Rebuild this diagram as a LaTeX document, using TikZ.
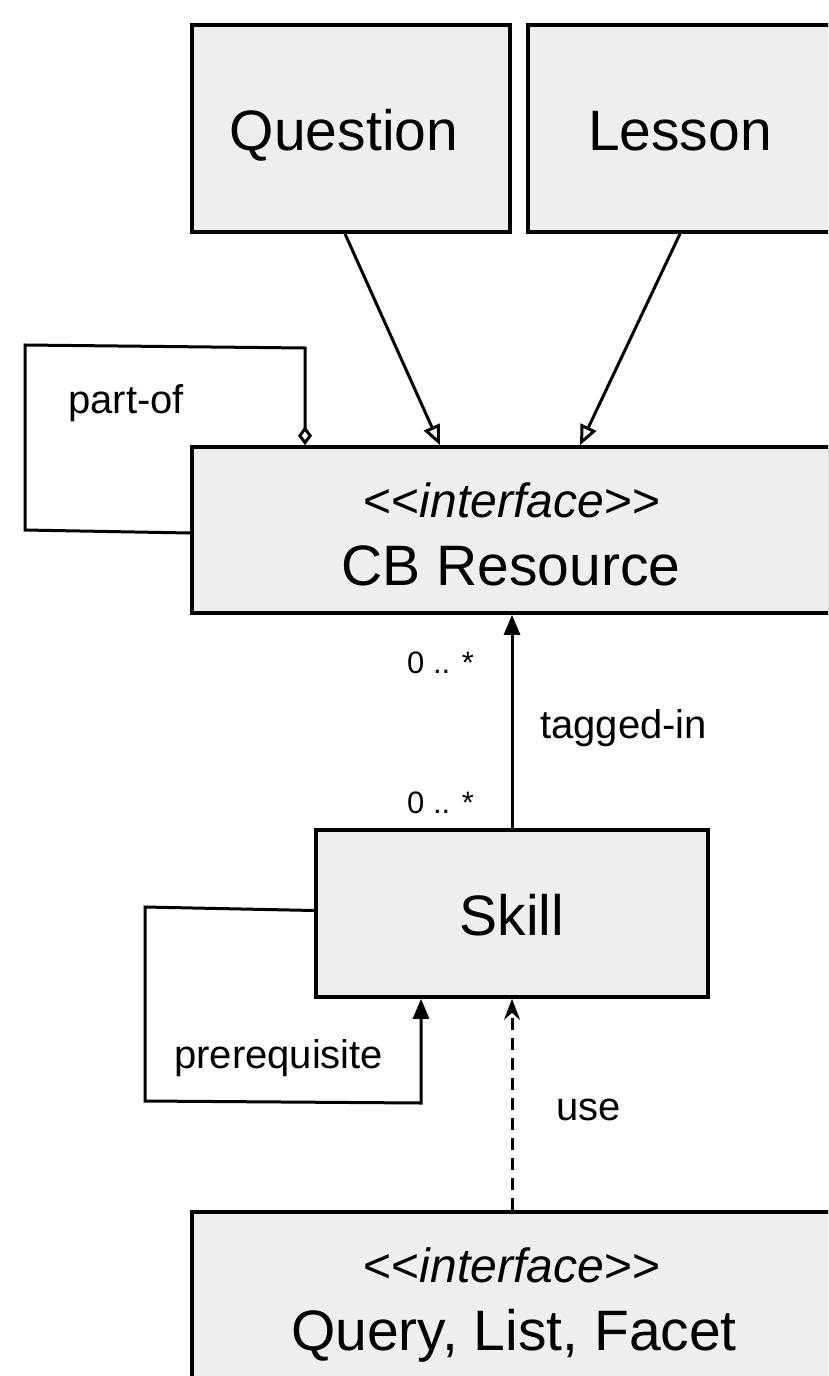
\documentclass[tikz,border=0pt]{standalone}
\usepackage{fontspec}
\setmainfont{Liberation Sans}
\usetikzlibrary{arrows.meta}
\definecolor{boxfill}{HTML}{EEEEEE}
\tikzset{
  umlbox/.style={draw=black, fill=boxfill, line width=3.6pt, rectangle, inner sep=0pt},
  bigtext/.style={font=\fontsize{57}{60}\selectfont, inner sep=0pt},
  stereo/.style={font=\fontsize{48}{52}\selectfont, inner sep=0pt},
  lbl/.style={font=\fontsize{40}{44}\selectfont, inner sep=0pt},
  mult/.style={font=\fontsize{31}{36}\selectfont, inner sep=0pt},
  conn/.style={line width=3pt, draw=black},
  inherit/.style={conn, -{Triangle[open, length=20pt, width=17pt]}},
  assoc/.style={conn, -{Triangle[length=20pt, width=16pt]}},
  aggr/.style={conn, -{Diamond[open, length=19pt, width=14pt]}},
  depend/.style={conn, dash pattern=on 12pt off 8pt, -{Stealth[length=21pt, width=16pt, inset=7pt]}}
}
\begin{document}
\begin{tikzpicture}[x=1pt, y=-1pt]
  \useasboundingbox (0,0) rectangle (828,1376);
  \clip (0,0) rectangle (828,1376);

  % class boxes
  \node[umlbox, minimum width=318pt, minimum height=207pt] (question) at (351,128.5) {};
  \node[umlbox, minimum width=304pt, minimum height=207pt] (lesson) at (680,128.5) {};
  \node[umlbox, minimum width=638pt, minimum height=166pt] (cb) at (511,530) {};
  \node[umlbox, minimum width=392pt, minimum height=167pt] (skill) at (512,913.5) {};
  \node[umlbox, minimum width=640pt, minimum height=260pt] (query) at (512,1342) {};

  % box titles
  \node[bigtext, anchor=base] (questiontxt) at (344,150) {Question};
  \node[bigtext, anchor=base] (lessontxt) at (680,150) {Lesson};
  \node[stereo, anchor=base] (cbst) at (512,517) {<{}<\textit{interface}>{}>};
  \node[bigtext, anchor=base] (cbname) at (511,585) {CB Resource};
  \node[bigtext, anchor=base] (skilltxt) at (512,935) {Skill};
  \node[stereo, anchor=base] (qst) at (512,1282) {<{}<\textit{interface}>{}>};
  \node[bigtext, anchor=base] (qname) at (514,1350) {Query, List, Facet};

  % generalisations into CB Resource
  \draw[inherit] ([xshift=-6pt]question.south) -- ([xshift=-71pt]cb.north);
  \draw[inherit] (lesson.south) -- ([xshift=69pt]cb.north);

  % part-of self aggregation
  \draw[aggr] ([yshift=-3pt]cb.west) -- (25,530) -- (25,345) -- (305,348) -- ([xshift=-206pt]cb.north);
  \node[lbl, anchor=base west] (partof) at (68,413) {part-of};

  % tagged-in association
  \draw[assoc] (skill.north) -- (skill.north |- cb.south);
  \node[mult, anchor=base west] (m1) at (407,673) {0 .. *};
  \node[mult, anchor=base west] (m2) at (407,813) {0 .. *};
  \node[lbl, anchor=base west] (tagged) at (540,738) {tagged-in};

  % prerequisite self association
  \draw[assoc] ([yshift=3pt]skill.west) -- (145,907) -- (145,1101) -- (421,1103) -- ([xshift=-91pt]skill.south);
  \node[lbl, anchor=base west] (prereq) at (174,1068) {prerequisite};

  % use dependency
  \draw[depend] (query.north) -- (skill.south);
  \node[lbl, anchor=base west] (use) at (556,1120) {use};
\end{tikzpicture}
\end{document}
